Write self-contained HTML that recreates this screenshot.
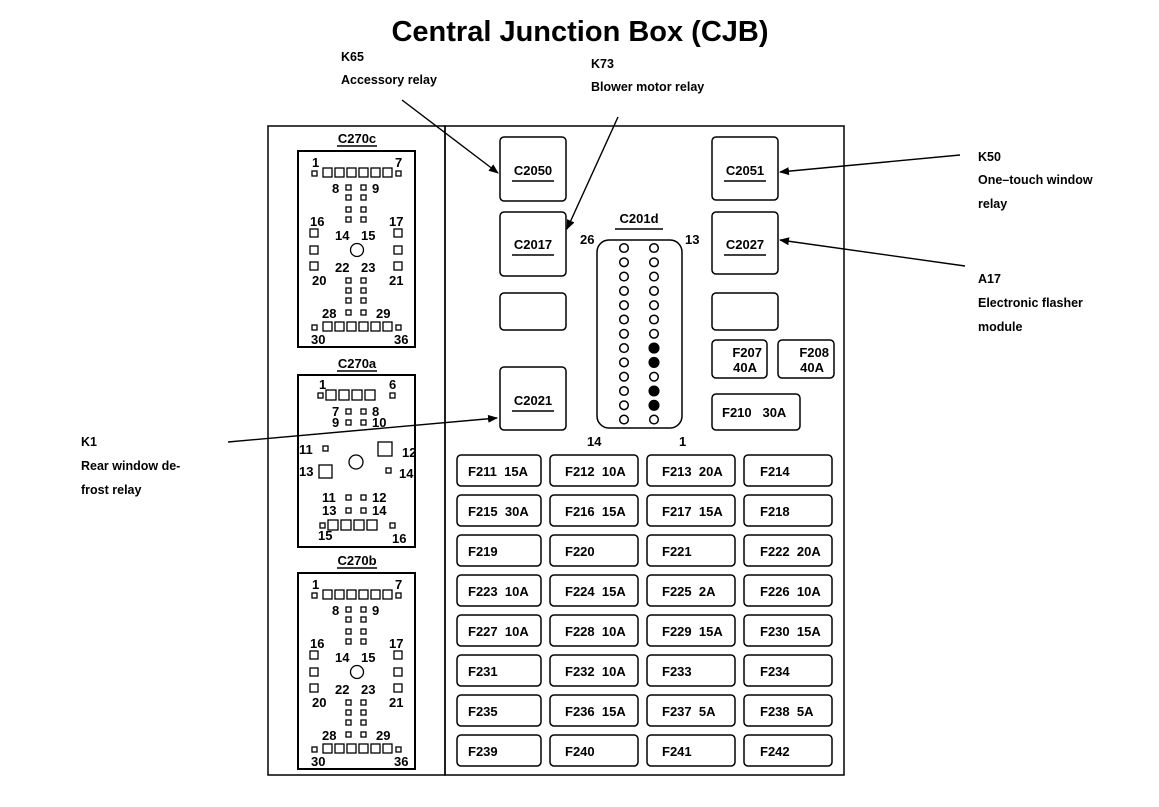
<!DOCTYPE html>
<html><head><meta charset="utf-8"><style>
body{margin:0;background:#fff}
svg{display:block;font-family:"Liberation Sans",Arial,sans-serif}
</style></head><body>
<svg width="1159" height="807" viewBox="0 0 1159 807" xmlns="http://www.w3.org/2000/svg">
<defs>
<marker id="ar" markerWidth="10" markerHeight="8" refX="9" refY="4" orient="auto" markerUnits="userSpaceOnUse"><path d="M0,0 L10,4 L0,8 Z" fill="#000"/></marker>
<g id="c36" fill="none" stroke="#000" stroke-width="1.3">
 <rect x="298" y="151" width="117" height="196" stroke-width="2"/>
 <rect x="312" y="171" width="5" height="5"/><rect x="396" y="171" width="5" height="5"/>
 <rect x="323" y="168" width="9" height="9"/><rect x="335" y="168" width="9" height="9"/><rect x="347" y="168" width="9" height="9"/><rect x="359" y="168" width="9" height="9"/><rect x="371" y="168" width="9" height="9"/><rect x="383" y="168" width="9" height="9"/>
 <g><rect x="346" y="185" width="5" height="5"/><rect x="361" y="185" width="5" height="5"/>
 <rect x="346" y="195" width="5" height="5"/><rect x="361" y="195" width="5" height="5"/>
 <rect x="346" y="207" width="5" height="5"/><rect x="361" y="207" width="5" height="5"/>
 <rect x="346" y="217" width="5" height="5"/><rect x="361" y="217" width="5" height="5"/>
 <rect x="346" y="278" width="5" height="5"/><rect x="361" y="278" width="5" height="5"/>
 <rect x="346" y="288" width="5" height="5"/><rect x="361" y="288" width="5" height="5"/>
 <rect x="346" y="298" width="5" height="5"/><rect x="361" y="298" width="5" height="5"/>
 <rect x="346" y="310" width="5" height="5"/><rect x="361" y="310" width="5" height="5"/></g>
 <rect x="310" y="229" width="8" height="8"/><rect x="394" y="229" width="8" height="8"/>
 <rect x="310" y="246" width="8" height="8"/><rect x="394" y="246" width="8" height="8"/>
 <rect x="310" y="262" width="8" height="8"/><rect x="394" y="262" width="8" height="8"/>
 <circle cx="357" cy="250" r="6.5"/>
 <rect x="312" y="325" width="5" height="5"/><rect x="396" y="325" width="5" height="5"/>
 <rect x="323" y="322" width="9" height="9"/><rect x="335" y="322" width="9" height="9"/><rect x="347" y="322" width="9" height="9"/><rect x="359" y="322" width="9" height="9"/><rect x="371" y="322" width="9" height="9"/><rect x="383" y="322" width="9" height="9"/>
 <g fill="#000" stroke="none" font-size="13" font-weight="bold">
 <text x="312" y="167">1</text><text x="395" y="167">7</text>
 <text x="332" y="193">8</text><text x="372" y="193">9</text>
 <text x="310" y="226">16</text><text x="389" y="226">17</text>
 <text x="335" y="240">14</text><text x="361" y="240">15</text>
 <text x="335" y="272">22</text><text x="361" y="272">23</text>
 <text x="312" y="285">20</text><text x="389" y="285">21</text>
 <text x="322" y="318">28</text><text x="376" y="318">29</text>
 <text x="311" y="344">30</text><text x="394" y="344">36</text></g>
</g>
</defs>
<text x="580" y="41" text-anchor="middle" font-size="29" font-weight="bold">Central Junction Box (CJB)</text>

<g font-size="12.5" font-weight="bold">
<text x="341" y="61">K65</text><text x="341" y="84">Accessory relay</text>
<text x="591" y="68">K73</text><text x="591" y="91">Blower motor relay</text>
<text x="978" y="161">K50</text><text x="978" y="184">One–touch window</text><text x="978" y="208">relay</text>
<text x="978" y="283">A17</text><text x="978" y="307">Electronic flasher</text><text x="978" y="331">module</text>
<text x="81" y="446">K1</text><text x="81" y="470">Rear window de-</text><text x="81" y="494">frost relay</text>
</g>

<g fill="none" stroke="#000" stroke-width="1.5">
<rect x="268" y="126" width="177" height="649"/>
<rect x="445" y="126" width="399" height="649"/>
</g>

<use href="#c36"/>
<use href="#c36" transform="translate(0,422)"/>
<g font-size="13" font-weight="bold" text-anchor="middle">
<text x="357" y="143">C270c</text><text x="357" y="368">C270a</text><text x="357" y="565">C270b</text></g>
<g stroke="#000" stroke-width="1.5"><line x1="337" y1="146" x2="377" y2="146"/><line x1="337" y1="371" x2="377" y2="371"/><line x1="337" y1="568" x2="377" y2="568"/></g>

<!-- C270a -->
<g fill="none" stroke="#000" stroke-width="1.3">
<rect x="298" y="375" width="117" height="172" stroke-width="2"/>
<rect x="318" y="393" width="5" height="5"/><rect x="390" y="393" width="5" height="5"/>
<rect x="326" y="390" width="10" height="10"/><rect x="339" y="390" width="10" height="10"/><rect x="352" y="390" width="10" height="10"/><rect x="365" y="390" width="10" height="10"/>
<rect x="346" y="409" width="5" height="5"/><rect x="361" y="409" width="5" height="5"/>
<rect x="346" y="420" width="5" height="5"/><rect x="361" y="420" width="5" height="5"/>
<rect x="323" y="446" width="5" height="5"/>
<rect x="378" y="442" width="14" height="14"/>
<circle cx="356" cy="462" r="7"/>
<rect x="319" y="465" width="13" height="13"/>
<rect x="386" y="468" width="5" height="5"/>
<rect x="346" y="495" width="5" height="5"/><rect x="361" y="495" width="5" height="5"/>
<rect x="346" y="508" width="5" height="5"/><rect x="361" y="508" width="5" height="5"/>
<rect x="320" y="523" width="5" height="5"/><rect x="390" y="523" width="5" height="5"/>
<rect x="328" y="520" width="10" height="10"/><rect x="341" y="520" width="10" height="10"/><rect x="354" y="520" width="10" height="10"/><rect x="367" y="520" width="10" height="10"/>
</g>
<g font-size="13" font-weight="bold">
<text x="319" y="389">1</text><text x="389" y="389">6</text>
<text x="332" y="416">7</text><text x="372" y="416">8</text>
<text x="332" y="427">9</text><text x="372" y="427">10</text>
<text x="299" y="454">11</text><text x="402" y="457">12</text>
<text x="299" y="476">13</text><text x="399" y="478">14</text>
<text x="322" y="502">11</text><text x="372" y="502">12</text>
<text x="322" y="515">13</text><text x="372" y="515">14</text>
<text x="318" y="540">15</text><text x="392" y="543">16</text>
</g>

<!-- relays -->
<g fill="none" stroke="#000" stroke-width="1.5">
<rect x="500" y="137" width="66" height="64" rx="4"/>
<rect x="500" y="212" width="66" height="64" rx="4"/>
<rect x="500" y="293" width="66" height="37" rx="4"/>
<rect x="500" y="367" width="66" height="63" rx="4"/>
<rect x="712" y="137" width="66" height="63" rx="4"/>
<rect x="712" y="212" width="66" height="62" rx="4"/>
<rect x="712" y="293" width="66" height="37" rx="4"/>
<rect x="712" y="340" width="55" height="38" rx="4"/>
<rect x="778" y="340" width="56" height="38" rx="4"/>
<rect x="712" y="394" width="88" height="36" rx="4"/>
<rect x="597" y="240" width="85" height="188" rx="12"/>
</g>
<g font-size="13" font-weight="bold">
<text x="533" y="175" text-anchor="middle">C2050</text>
<text x="533" y="249" text-anchor="middle">C2017</text>
<text x="533" y="405" text-anchor="middle">C2021</text>
<text x="745" y="175" text-anchor="middle">C2051</text>
<text x="745" y="249" text-anchor="middle">C2027</text>
<text x="762" y="357" text-anchor="end">F207</text><text x="757" y="372" text-anchor="end">40A</text>
<text x="829" y="357" text-anchor="end">F208</text><text x="824" y="372" text-anchor="end">40A</text>
<text x="722" y="417">F210&#160;&#160;&#160;30A</text>
<text x="639" y="223" text-anchor="middle">C201d</text>
<text x="580" y="244">26</text><text x="685" y="244">13</text>
<text x="587" y="446">14</text><text x="679" y="446">1</text>
</g>
<g stroke="#000" stroke-width="1.5">
<line x1="512" y1="181" x2="554" y2="181"/><line x1="512" y1="255" x2="554" y2="255"/><line x1="512" y1="411" x2="554" y2="411"/>
<line x1="724" y1="181" x2="766" y2="181"/><line x1="724" y1="255" x2="766" y2="255"/>
<line x1="615" y1="229" x2="663" y2="229"/>
</g>
<g fill="none" stroke="#000" stroke-width="1.5">
<circle cx="624" cy="248" r="4.3"/><circle cx="624" cy="262.3" r="4.3"/><circle cx="624" cy="276.6" r="4.3"/><circle cx="624" cy="290.9" r="4.3"/><circle cx="624" cy="305.2" r="4.3"/><circle cx="624" cy="319.5" r="4.3"/><circle cx="624" cy="333.8" r="4.3"/><circle cx="624" cy="348.1" r="4.3"/><circle cx="624" cy="362.4" r="4.3"/><circle cx="624" cy="376.7" r="4.3"/><circle cx="624" cy="391" r="4.3"/><circle cx="624" cy="405.3" r="4.3"/><circle cx="624" cy="419.6" r="4.3"/>
<circle cx="654" cy="248" r="4.3"/><circle cx="654" cy="262.3" r="4.3"/><circle cx="654" cy="276.6" r="4.3"/><circle cx="654" cy="290.9" r="4.3"/><circle cx="654" cy="305.2" r="4.3"/><circle cx="654" cy="319.5" r="4.3"/><circle cx="654" cy="333.8" r="4.3"/><circle cx="654" cy="348.1" r="4.8" fill="#000"/><circle cx="654" cy="362.4" r="4.8" fill="#000"/><circle cx="654" cy="376.7" r="4.3"/><circle cx="654" cy="391" r="4.8" fill="#000"/><circle cx="654" cy="405.3" r="4.8" fill="#000"/><circle cx="654" cy="419.6" r="4.3"/>
</g>

<!-- fuses -->
<g fill="none" stroke="#000" stroke-width="1.5">
<rect x="457" y="455" width="84" height="31" rx="4"/><rect x="550" y="455" width="88" height="31" rx="4"/><rect x="647" y="455" width="88" height="31" rx="4"/><rect x="744" y="455" width="88" height="31" rx="4"/>
<rect x="457" y="495" width="84" height="31" rx="4"/><rect x="550" y="495" width="88" height="31" rx="4"/><rect x="647" y="495" width="88" height="31" rx="4"/><rect x="744" y="495" width="88" height="31" rx="4"/>
<rect x="457" y="535" width="84" height="31" rx="4"/><rect x="550" y="535" width="88" height="31" rx="4"/><rect x="647" y="535" width="88" height="31" rx="4"/><rect x="744" y="535" width="88" height="31" rx="4"/>
<rect x="457" y="575" width="84" height="31" rx="4"/><rect x="550" y="575" width="88" height="31" rx="4"/><rect x="647" y="575" width="88" height="31" rx="4"/><rect x="744" y="575" width="88" height="31" rx="4"/>
<rect x="457" y="615" width="84" height="31" rx="4"/><rect x="550" y="615" width="88" height="31" rx="4"/><rect x="647" y="615" width="88" height="31" rx="4"/><rect x="744" y="615" width="88" height="31" rx="4"/>
<rect x="457" y="655" width="84" height="31" rx="4"/><rect x="550" y="655" width="88" height="31" rx="4"/><rect x="647" y="655" width="88" height="31" rx="4"/><rect x="744" y="655" width="88" height="31" rx="4"/>
<rect x="457" y="695" width="84" height="31" rx="4"/><rect x="550" y="695" width="88" height="31" rx="4"/><rect x="647" y="695" width="88" height="31" rx="4"/><rect x="744" y="695" width="88" height="31" rx="4"/>
<rect x="457" y="735" width="84" height="31" rx="4"/><rect x="550" y="735" width="88" height="31" rx="4"/><rect x="647" y="735" width="88" height="31" rx="4"/><rect x="744" y="735" width="88" height="31" rx="4"/>
</g>
<g font-size="13" font-weight="bold">
<text x="468" y="476">F211&#160;&#160;15A</text><text x="565" y="476">F212&#160;&#160;10A</text><text x="662" y="476">F213&#160;&#160;20A</text><text x="760" y="476">F214</text>
<text x="468" y="516">F215&#160;&#160;30A</text><text x="565" y="516">F216&#160;&#160;15A</text><text x="662" y="516">F217&#160;&#160;15A</text><text x="760" y="516">F218</text>
<text x="468" y="556">F219</text><text x="565" y="556">F220</text><text x="662" y="556">F221</text><text x="760" y="556">F222&#160;&#160;20A</text>
<text x="468" y="596">F223&#160;&#160;10A</text><text x="565" y="596">F224&#160;&#160;15A</text><text x="662" y="596">F225&#160;&#160;2A</text><text x="760" y="596">F226&#160;&#160;10A</text>
<text x="468" y="636">F227&#160;&#160;10A</text><text x="565" y="636">F228&#160;&#160;10A</text><text x="662" y="636">F229&#160;&#160;15A</text><text x="760" y="636">F230&#160;&#160;15A</text>
<text x="468" y="676">F231</text><text x="565" y="676">F232&#160;&#160;10A</text><text x="662" y="676">F233</text><text x="760" y="676">F234</text>
<text x="468" y="716">F235</text><text x="565" y="716">F236&#160;&#160;15A</text><text x="662" y="716">F237&#160;&#160;5A</text><text x="760" y="716">F238&#160;&#160;5A</text>
<text x="468" y="756">F239</text><text x="565" y="756">F240</text><text x="662" y="756">F241</text><text x="760" y="756">F242</text>
</g>

<!-- leader arrows -->
<g stroke="#000" stroke-width="1.4" fill="none" marker-end="url(#ar)">
<line x1="402" y1="100" x2="498" y2="173"/>
<line x1="618" y1="117" x2="567" y2="229"/>
<line x1="960" y1="155" x2="780" y2="172"/>
<line x1="965" y1="266" x2="780" y2="240"/>
<line x1="228" y1="442" x2="497" y2="418"/>
</g>
</svg>
</body></html>
